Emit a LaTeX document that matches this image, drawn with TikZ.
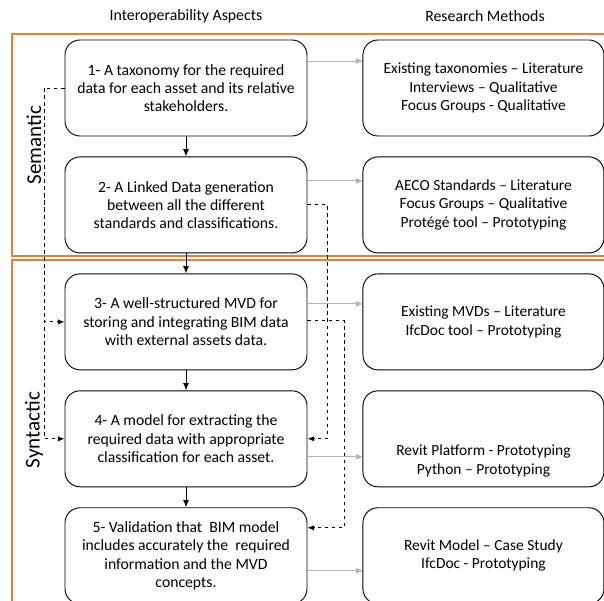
\documentclass[tikz,border=0pt]{standalone}
\usepackage{fontspec}
\setmainfont{Carlito}
\usetikzlibrary{positioning, arrows.meta, calc}
\definecolor{frameorange}{RGB}{237,125,49}

\begin{document}
\begin{tikzpicture}[
            x=0.03cm, y=-0.03cm,
            node distance=0.6cm and 1.65cm,
            aspect/.style={draw, rounded corners=0.45cm, line width=0.8pt, minimum width=7.26cm,
                minimum height=2.88cm, align=center, font=\fontsize{13.4}{15.6}\selectfont},
            method/.style={draw, rounded corners=0.45cm, line width=0.8pt, minimum width=7.23cm,
                minimum height=2.88cm, align=center, font=\fontsize{13.2}{15.6}\selectfont},
            header/.style={font=\fontsize{13.5}{16}\selectfont},
            layer/.style={rotate=90, font=\fontsize{18}{20}\selectfont},
            frame/.style={draw=frameorange, line width=1.2pt},
            flow/.style={draw, line width=0.8pt, -{Latex[length=2.2mm, width=1.8mm]}},
            feed/.style={draw, gray!60, line width=0.8pt, -{Triangle[length=2mm, width=1.6mm]}},
            link/.style={draw, dashed, line width=0.8pt, -{Latex[length=2mm, width=1.6mm]}}
            ]
        \useasboundingbox (0,0) rectangle (604,601);

        % Rahmen
        \draw[frame] (615,34) -- (12,34) -- (12,256) -- (615,256);
        \draw[frame] (615,260) -- (12,260) -- (12,615);

        \node[header] (h1) at (186,16) {Interoperability Aspects};
        \node[header] (h2) at (485,16) {Research Methods};

        \node[layer] (sem) at (34,145) {Semantic};
        \node[layer] (syn) at (34,430) {Syntactic};

        % Aspekte
        \node[aspect] (a1) at (186,88) {1- A taxonomy for the required\\data for each asset and its relative\\stakeholders.};
        \node[aspect, below=of a1] (a2) {2- A Linked Data generation\\between all the different\\standards and classifications.};
        \node[aspect, below=of a2] (a3) {3- A well-structured MVD for\\storing and integrating BIM data\\with external assets data.};
        \node[aspect, below=of a3] (a4) {4- A model for extracting the\\required data with appropriate\\classification for each asset.};
        \node[aspect, below=of a4] (a5) {5- Validation that\ \ BIM model\\includes accurately the\ \ required\\information and the MVD\\concepts.};

        % Methoden
        \node[method, right=of a1] (m1) {Existing taxonomies -- Literature\\Interviews -- Qualitative\\Focus Groups - Qualitative};
        \node[method, right=of a2] (m2) {AECO Standards -- Literature\\Focus Groups -- Qualitative\\Protégé tool -- Prototyping};
        \node[method, right=of a3] (m3) {Existing MVDs -- Literature\\IfcDoc tool -- Prototyping};
        \node[method, right=of a4] (m4) {};
        \node[align=center, font=\fontsize{13.2}{15.6}\selectfont] (m4text) at ([yshift=-0.66cm]m4.center) {Revit Platform - Prototyping\\Python -- Prototyping};
        \node[method, right=of a5] (m5) {Revit Model -- Case Study\\IfcDoc - Prototyping};

        % Pfeile
        \path[flow] (a1) -- (a2);
        \path[flow] (a2) -- (a3);
        \path[flow] (a3) -- (a4);
        \path[flow] (a4) -- (a5);

        \path[feed] ([yshift=0.81cm]a1.east) -- ([yshift=0.81cm]a1.east -| m1.west);
        \path[feed] ([yshift=0.72cm]a2.east) -- ([yshift=0.72cm]a2.east -| m2.west);
        \path[feed] ([yshift=0.54cm]a3.east) -- ([yshift=0.54cm]a3.east -| m3.west);
        \path[feed] ([yshift=-0.54cm]a4.east) -- ([yshift=-0.54cm]a4.east -| m4.west);
        \path[feed] ([yshift=-0.45cm]a5.east) -- ([yshift=-0.45cm]a5.east -| m5.west);

        \coordinate (j1) at (44,88);
        \path[link] (a1.west) -- (j1) |- (a3.west);
        \path[link] (j1) |- (a4.west);
        \path[link] (a2.east) -- ++(0.6cm,0) |- (a4.east);
        \path[link] ([yshift=0.03cm]a3.east) -- ++(1.11cm,0) |- ([yshift=0.84cm]a5.east);
        \end{tikzpicture}
\end{document}
